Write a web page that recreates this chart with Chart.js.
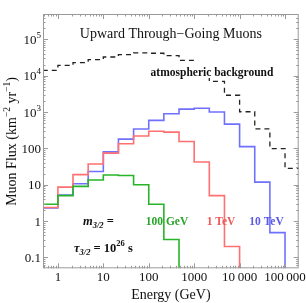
<!DOCTYPE html>
<html>
<head>
<meta charset="utf-8">
<script src="https://cdn.jsdelivr.net/npm/chart.js@4.4.1/dist/chart.umd.min.js"></script>
<style>
  html, body { margin: 0; padding: 0; background: #fff; }
  #wrap { width: 306px; height: 303px; }
</style>
</head>
<body>
<div id="wrap"><canvas id="chart" width="306" height="303"></canvas></div>
<script>
// bin edges (GeV), three bins per decade
const binEdges = [0.464, 1, 2.15, 4.64, 10, 21.5, 46.4, 100, 215, 464, 1000, 2154, 4642, 10000, 21544, 46416, 100000, 215443];

// muon flux per bin (km^-2 yr^-1), starting at the first bin
const atmosphericFlux = [14000, 19300, 23000, 27700, 32800, 38000, 42300, 41600, 35700, 26500, 13000, 7000, 2900, 1020, 345, 99, 28];
const flux10TeV = [2.3, 5.2, 10.6, 23, 80, 180, 340, 590, 900, 1200, 1270, 1000, 465, 112, 11.8, 0.48];
const flux1TeV = [2.35, 8.6, 19, 37, 74, 134, 220, 297, 280, 155, 42, 5.0, 0.2];
const flux100GeV = [2.9, 5, 9, 13.5, 18.5, 18, 10, 2.9, 0.31];

const xTickValues = [1, 10, 100, 1000, 10000, 100000];
const xTickLabels = ["1", "10", "100", "1000", "10\u2009000", "100\u2009000"];
const yTickValues = [0.1, 1, 10, 100, 1000, 10000, 100000];
const yTickLabels = ["0.1", "1", "10", "100", "10^3", "10^4", "10^5"];

const xMin = 0.47, xMax = 200000;
const yMin = 0.05, yMax = 500000;

const serif = "'Liberation Serif', 'Times New Roman', serif";
const frameColor = "#9a9a9a";

// histogram outline: each bin becomes a flat segment, then drop to the floor
function histPoints(values) {
  const pts = [];
  values.forEach((v, i) => {
    pts.push({ x: binEdges[i], y: v });
    pts.push({ x: binEdges[i + 1], y: v });
  });
  pts.push({ x: binEdges[values.length], y: yMin });
  return pts;
}

function drawRuns(ctx, runs, x, y, align) {
  let total = 0;
  runs.forEach((r) => {
    ctx.font = r.font;
    r.w = ctx.measureText(r.text).width;
    total += r.w;
  });
  let cx = align === "center" ? x - total / 2 : align === "right" ? x - total : x;
  runs.forEach((r) => {
    ctx.font = r.font;
    ctx.fillText(r.text, cx, y + (r.dy || 0));
    cx += r.w;
  });
  return total;
}

const framePlugin = {
  id: "frame",
  beforeDraw(chart) {
    const ctx = chart.ctx;
    ctx.save();
    ctx.fillStyle = "#fff";
    ctx.fillRect(0, 0, chart.width, chart.height);
    ctx.restore();
  },
  afterDatasetsDraw(chart) {
    const ctx = chart.ctx;
    const a = chart.chartArea;
    const xs = chart.scales.x, ys = chart.scales.y;
    ctx.save();

    // frame
    ctx.strokeStyle = frameColor;
    ctx.lineWidth = 1;
    ctx.strokeRect(a.left + 0.5, a.top + 0.5, a.right - a.left - 1, a.bottom - a.top - 1);

    // inward ticks on all sides
    ctx.beginPath();
    for (let d = 0.01; d <= 1e6; d *= 10) {
      for (let m = 1; m <= 9; m++) {
        const v = d * m;
        const len = m === 1 ? 5 : 2.5;
        if (v > xMin && v < xMax) {
          const px = Math.round(xs.getPixelForValue(v)) + 0.5;
          ctx.moveTo(px, a.bottom); ctx.lineTo(px, a.bottom - len);
          ctx.moveTo(px, a.top); ctx.lineTo(px, a.top + len);
        }
        if (v > yMin && v < yMax) {
          const py = Math.round(ys.getPixelForValue(v)) + 0.5;
          ctx.moveTo(a.left, py); ctx.lineTo(a.left + len, py);
          ctx.moveTo(a.right, py); ctx.lineTo(a.right - len, py);
        }
      }
    }
    ctx.stroke();

    ctx.fillStyle = "#111";
    // x tick labels
    ctx.textAlign = "left";
    ctx.textBaseline = "alphabetic";
    xTickValues.forEach((v, i) => {
      const px = xs.getPixelForValue(v);
      drawRuns(ctx, [{ text: xTickLabels[i], font: "13px " + serif }], px, a.bottom + 13, "center");
    });
    // y tick labels
    yTickValues.forEach((v, i) => {
      const py = ys.getPixelForValue(v);
      const lab = yTickLabels[i];
      if (lab.indexOf("^") > 0) {
        const [b, e] = lab.split("^");
        drawRuns(ctx, [
          { text: b, font: "13px " + serif },
          { text: e, font: "9px " + serif, dy: -6 },
        ], a.left - 2, py + 4.5, "right");
      } else {
        drawRuns(ctx, [{ text: lab, font: "13px " + serif }], a.left - 2, py + 4.5, "right");
      }
    });

    // axis titles
    drawRuns(ctx, [{ text: "Energy (GeV)", font: "14px " + serif }], (a.left + a.right) / 2, 299, "center");
    ctx.save();
    ctx.translate(15.5, 141.5);
    ctx.rotate(-Math.PI / 2);
    drawRuns(ctx, [
      { text: "Muon Flux (km", font: "14px " + serif },
      { text: "\u22122", font: "9.5px " + serif, dy: -6 },
      { text: " yr", font: "14px " + serif },
      { text: "\u22121", font: "9.5px " + serif, dy: -6 },
      { text: ")", font: "14px " + serif },
    ], 0, 0, "center");
    ctx.restore();

    // title inside frame
    drawRuns(ctx, [{ text: "Upward Through\u2212Going Muons", font: "14px " + serif }], (a.left + a.right) / 2, 37.5, "center");

    // atmospheric label on white box
    ctx.font = "bold 11.5px " + serif;
    const aw = ctx.measureText("atmospheric background").width;
    ctx.fillStyle = "#fff";
    ctx.fillRect(212 - aw / 2 - 2, 64, aw + 4, 14);
    ctx.fillStyle = "#111";
    drawRuns(ctx, [{ text: "atmospheric background", font: "bold 11.5px " + serif }], 212, 76, "center");

    // gravitino labels
    drawRuns(ctx, [
      { text: "m", font: "italic bold 12.5px " + serif },
      { text: "3/2", font: "italic bold 8.5px " + serif, dy: 3 },
      { text: " =", font: "bold 12.5px " + serif },
    ], 83, 225, "left");
    drawRuns(ctx, [
      { text: "\u03c4", font: "italic bold 12.5px " + serif },
      { text: "3/2", font: "italic bold 8.5px " + serif, dy: 3 },
      { text: " = 10", font: "bold 12.5px " + serif },
      { text: "26", font: "bold 8.5px " + serif, dy: -6 },
      { text: " s", font: "bold 12.5px " + serif },
    ], 74, 252, "left");

    ctx.fillStyle = "#2aa52a";
    drawRuns(ctx, [{ text: "100 GeV", font: "bold 11.5px " + serif }], 167, 225, "center");
    ctx.fillStyle = "#f05a5a";
    drawRuns(ctx, [{ text: "1 TeV", font: "bold 11.5px " + serif }], 221, 225, "center");
    ctx.fillStyle = "#5a5ae6";
    drawRuns(ctx, [{ text: "10 TeV", font: "bold 11.5px " + serif }], 266.5, 225, "center");

    ctx.restore();
  },
};

new Chart(document.getElementById("chart"), {
  type: "line",
  data: {
    datasets: [
      {
        data: histPoints(flux100GeV),
        borderColor: "rgb(40,180,40)",
        borderWidth: 1.6,
      },
      {
        data: histPoints(flux1TeV),
        borderColor: "rgb(255,112,112)",
        borderWidth: 1.6,
      },
      {
        data: histPoints(flux10TeV),
        borderColor: "rgb(112,112,255)",
        borderWidth: 1.6,
      },
      {
        data: histPoints(atmosphericFlux),
        borderColor: "#222",
        borderWidth: 1.3,
        borderDash: [5, 4],
      },
    ],
  },
  options: {
    responsive: false,
    animation: false,
    devicePixelRatio: 1,
    layout: { padding: { left: 43, top: 14, right: 7.3, bottom: 34.7 } },
    elements: { point: { radius: 0 }, line: { tension: 0, fill: false } },
    plugins: { legend: { display: false }, tooltip: { enabled: false } },
    scales: {
      x: { type: "logarithmic", min: xMin, max: xMax, display: false },
      y: { type: "logarithmic", min: yMin, max: yMax, display: false },
    },
  },
  plugins: [framePlugin],
});
</script>
</body>
</html>
